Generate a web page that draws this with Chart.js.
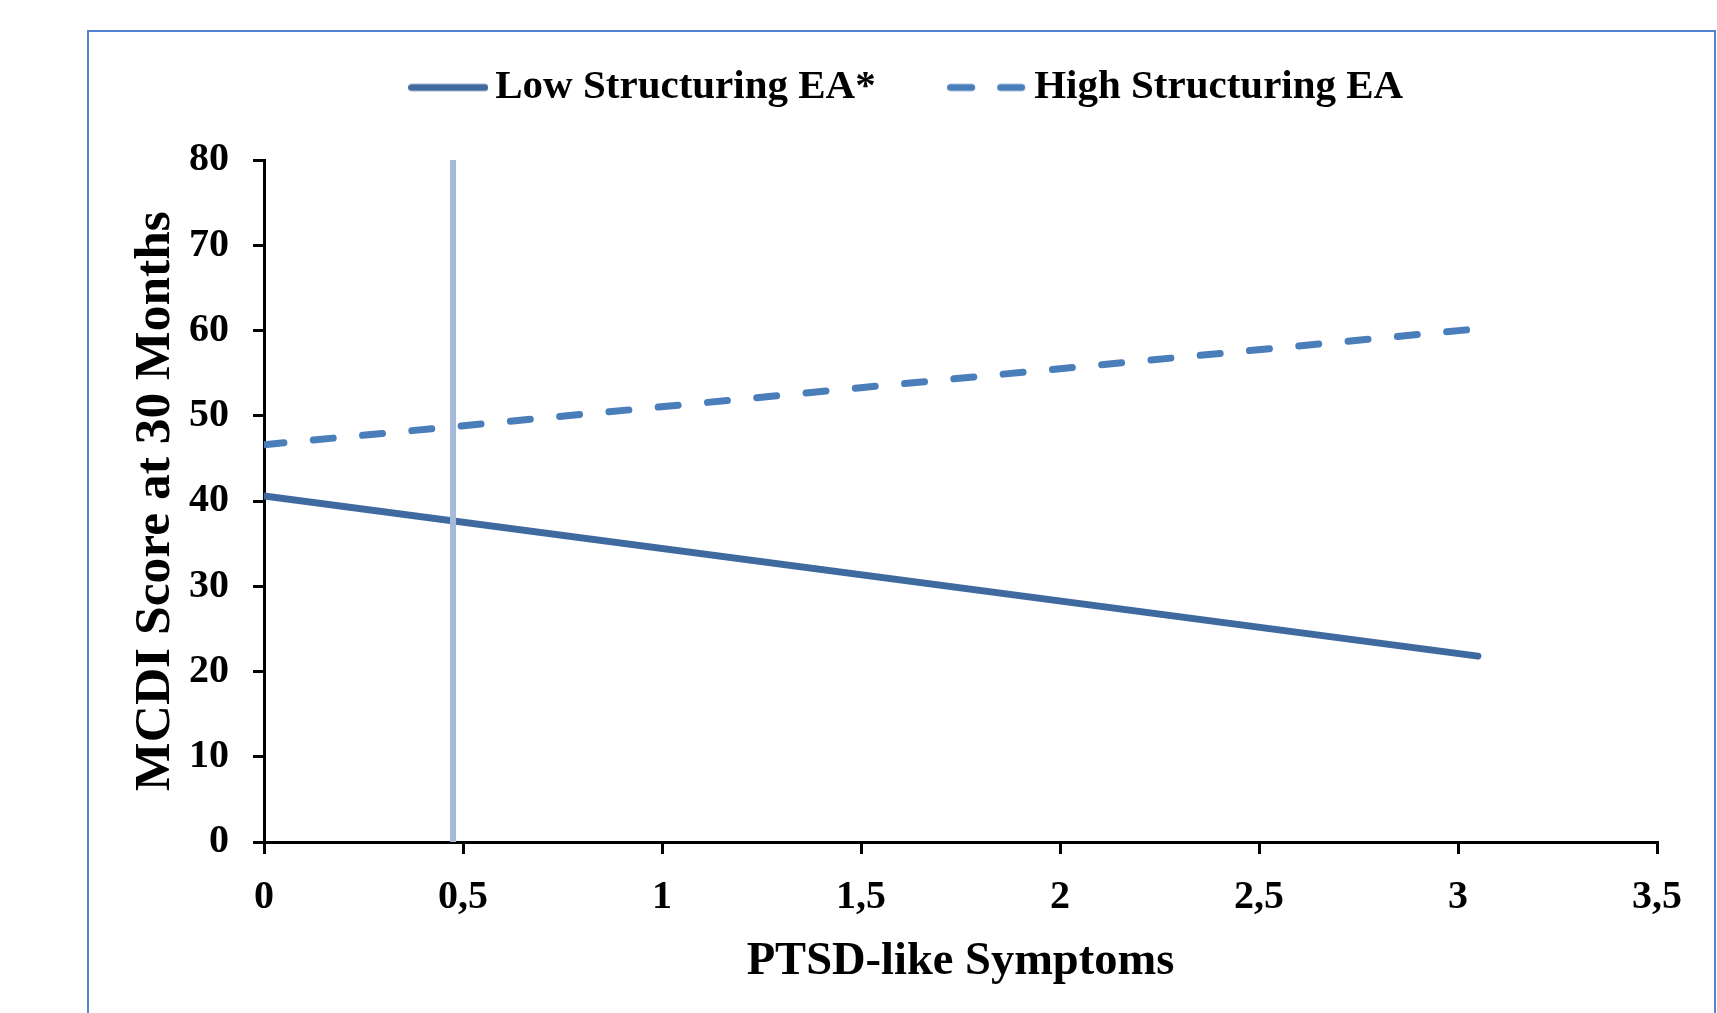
<!DOCTYPE html>
<html>
<head>
<meta charset="utf-8">
<script src="https://cdn.jsdelivr.net/npm/chart.js@4.4.1/dist/chart.umd.min.js"></script>
<style>
html, body { margin: 0; padding: 0; background: #fff; overflow: hidden; }
#frame { position: absolute; left: 87px; top: 30px; width: 1625px; height: 1100px; border: 2px solid #5284d2; }
#wrap { position: absolute; left: 95px; top: -18px; width: 1622px; height: 1031px; }
</style>
</head>
<body>
<div id="frame"></div>
<div id="wrap"><canvas id="chart"></canvas></div>
<script>
// data
const xValues = [0, 3.05];
const lowStructuring = [40.6, 21.8];
const highStructuring = [46.6, 60.2];
const cutoffX = [0.475, 0.475];
const cutoffY = [0, 80];
const xTickLabels = ["0", "0,5", "1", "1,5", "2", "2,5", "3", "3,5"];
const seriesNames = ["Low Structuring EA*", "High Structuring EA"];

const lowColor = "#3f6a9f";
const highColor = "#4a7ebb";

const toPoints = (xs, ys) => xs.map((x, i) => ({ x: x, y: ys[i] }));
const serif = "'Liberation Serif', 'Times New Roman', serif";

// little legend markers (Chart.js "line" point style can't show a dash)
function legendMarker(color, dash) {
    const c = document.createElement("canvas");
    c.width = 80;
    c.height = 10;
    const g = c.getContext("2d");
    g.strokeStyle = color;
    g.lineWidth = 7;
    g.lineCap = "round";
    g.setLineDash(dash);
    g.beginPath();
    g.moveTo(3.5, 5);
    g.lineTo(76.5, 5);
    g.stroke();
    return c;
}

const ctx = document.getElementById("chart").getContext("2d");
new Chart(ctx, {
    type: "line",
    data: {
        datasets: [
            {
                label: seriesNames[0],
                data: toPoints(xValues, lowStructuring),
                borderColor: lowColor,
                backgroundColor: lowColor,
                borderWidth: 7,
                borderCapStyle: "round",
                pointRadius: 0,
                pointStyle: legendMarker(lowColor, []),
                order: 1
            },
            {
                label: seriesNames[1],
                data: toPoints(xValues, highStructuring),
                borderColor: highColor,
                backgroundColor: highColor,
                borderWidth: 7,
                borderDash: [20, 29.5],
                borderCapStyle: "round",
                pointRadius: 0,
                pointStyle: legendMarker(highColor, [21, 29]),
                order: 1
            },
            {
                label: "cutoff",
                data: toPoints(cutoffX, cutoffY),
                borderColor: "#a6b9d9",
                borderWidth: 6,
                pointRadius: 0,
                order: 0
            }
        ]
    },
    options: {
        responsive: true,
        maintainAspectRatio: false,
        animation: false,
        layout: { padding: { left: 73, right: 60, top: 0, bottom: 23 } },
        plugins: {
            tooltip: { enabled: false },
            // empty title used as a spacer under the legend
            title: {
                display: true,
                text: " ",
                weight: 500,
                font: { size: 2, lineHeight: 1 },
                padding: { top: 40, bottom: 0 }
            },
            legend: {
                position: "top",
                labels: {
                    filter: item => item.datasetIndex < 2,
                    usePointStyle: true,
                    pointStyleWidth: 53,
                    padding: 85,
                    color: "#000",
                    font: { family: serif, size: 41, weight: "bold" }
                }
            }
        },
        scales: {
            x: {
                type: "linear",
                min: 0,
                max: 3.5,
                afterFit: scale => { scale.height = 148; },
                ticks: {
                    stepSize: 0.5,
                    padding: 20,
                    color: "#000",
                    maxRotation: 0,
                    font: { family: serif, size: 40, weight: "bold" },
                    callback: v => xTickLabels[Math.round(v * 2)]
                },
                grid: { drawOnChartArea: false, color: "#000", lineWidth: 3, tickLength: 12 },
                border: { color: "#000", width: 3 },
                title: {
                    display: true,
                    text: "PTSD-like Symptoms",
                    color: "#000",
                    padding: 0,
                    font: { family: serif, size: 46.5, weight: "bold" }
                }
            },
            y: {
                min: 0,
                max: 80,
                afterFit: scale => { scale.width = 96; },
                ticks: {
                    stepSize: 10,
                    padding: 24,
                    color: "#000",
                    font: { family: serif, size: 40, weight: "bold" }
                },
                grid: { drawOnChartArea: false, color: "#000", lineWidth: 3, tickLength: 11 },
                border: { color: "#000", width: 3 },
                title: {
                    display: true,
                    text: "MCDI Score at 30 Months",
                    color: "#000",
                    padding: { top: -43, bottom: 0 },
                    font: { family: serif, size: 51.5, weight: "bold" }
                }
            }
        }
    }
});
</script>
</body>
</html>
